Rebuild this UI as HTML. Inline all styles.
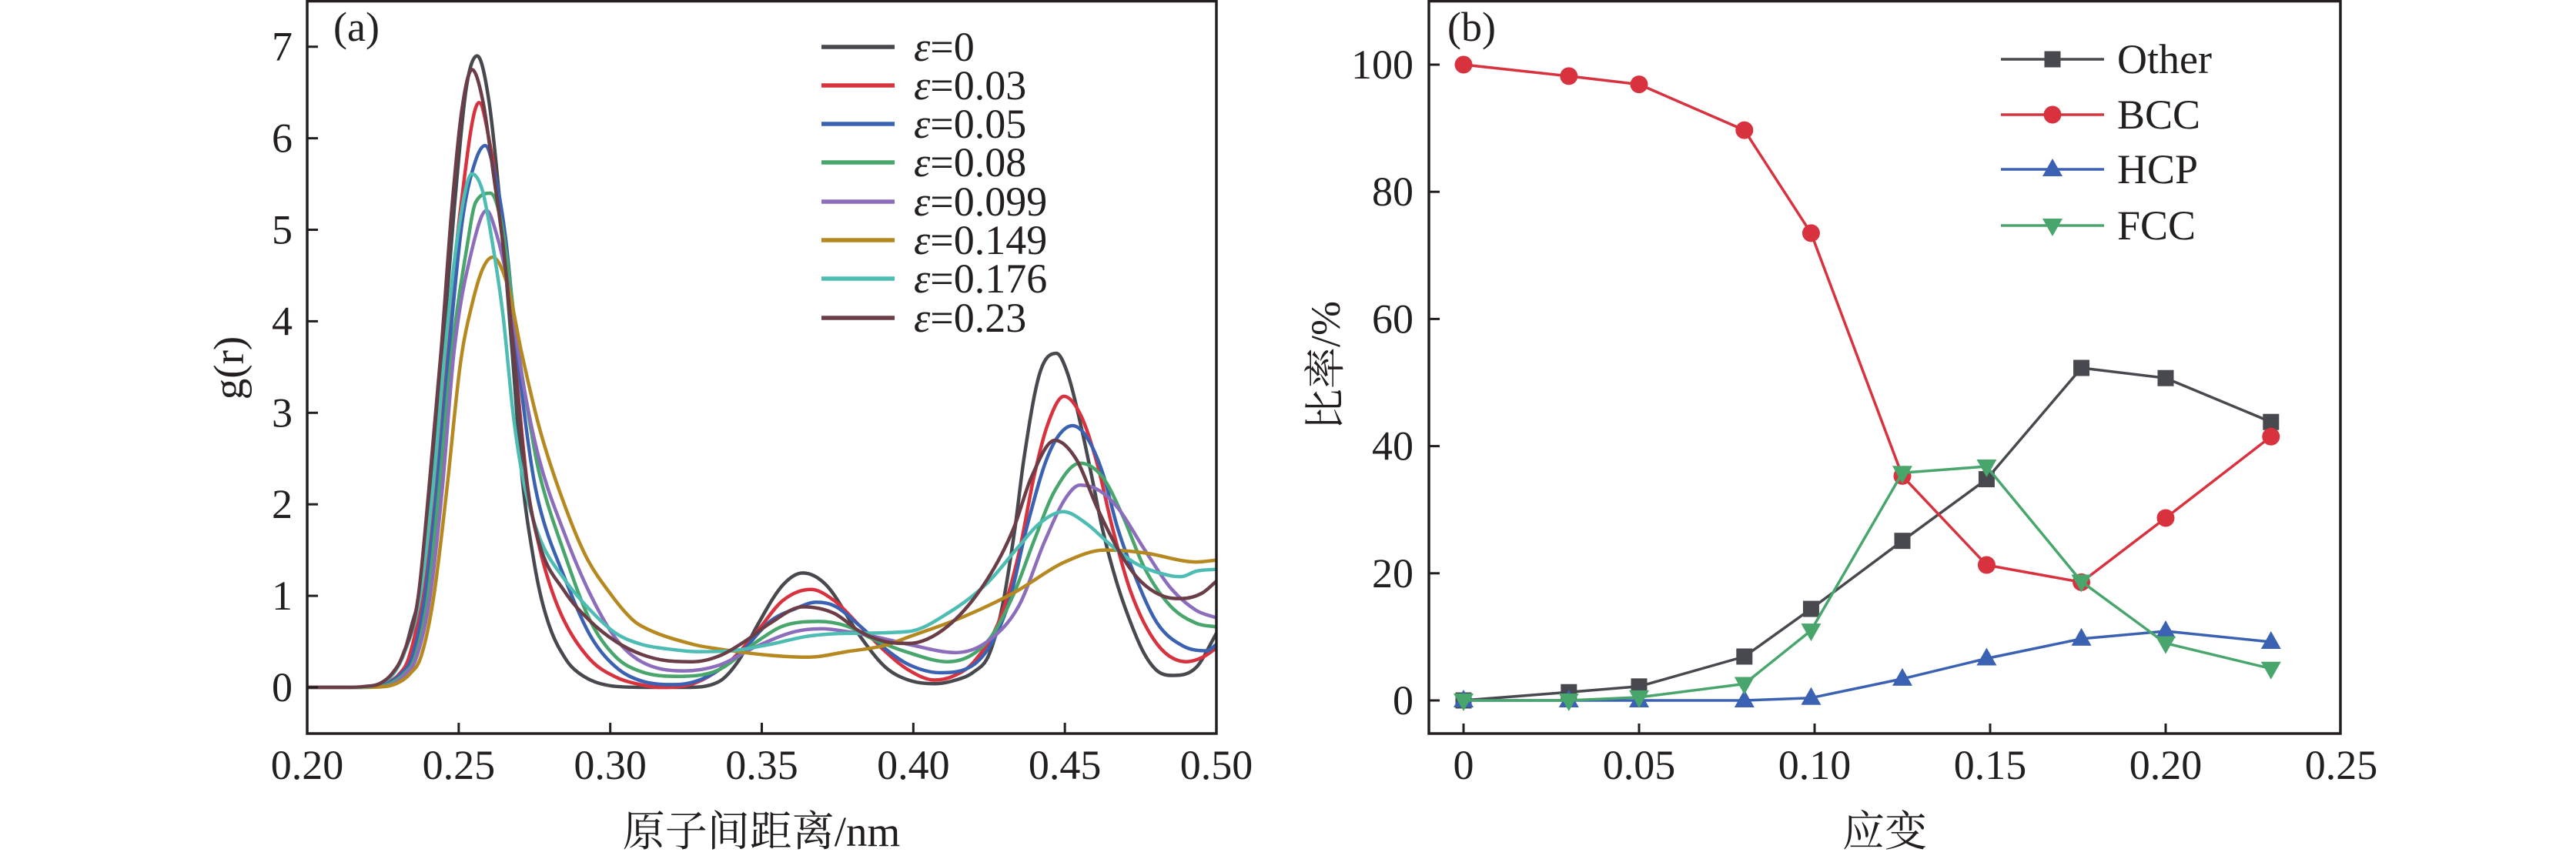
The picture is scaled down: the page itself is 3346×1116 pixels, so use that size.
<!DOCTYPE html>
<html>
<head>
<meta charset="utf-8">
<style>
  html,body{margin:0;padding:0;background:#ffffff;}
  svg{display:block;}
  svg text{font-family:"Liberation Serif","Times New Roman","Noto Serif CJK SC","DejaVu Serif",serif;fill:#231f20;}
</style>
</head>
<body>
<svg id="svg" width="3346" height="1116" viewBox="0 0 3346 1116" xmlns="http://www.w3.org/2000/svg" font-family="Liberation Serif, Noto Serif CJK SC, serif">
  <rect x="0" y="0" width="3346" height="1116" fill="#ffffff"/>
  <defs>
    <clipPath id="clipA"><rect x="399" y="2" width="1181" height="950"/></clipPath>
  </defs>

  <!-- ============ Panel A ============ -->
  <g id="curvesA" clip-path="url(#clipA)" fill="none" stroke-width="4.5" stroke-linejoin="round" stroke-linecap="round"></g>
  <rect x="399" y="1.5" width="1181" height="951.5" fill="none" stroke="#231f20" stroke-width="3.5"/>
  <g id="ticksA" stroke="#231f20" stroke-width="3"></g>
  <g id="labelsA" font-size="54" font-family="Liberation Serif, serif"></g>
  <text x="433" y="53" font-size="54" font-family="Liberation Serif, serif">(a)</text>
  <text x="297" y="478" font-size="55" font-family="Liberation Serif, serif" text-anchor="middle" dominant-baseline="central" transform="rotate(-90 297 478)">g(r)</text>
  <text x="989" y="1099" font-size="55" font-family="Liberation Serif, Noto Serif CJK SC, serif" text-anchor="middle">原子间距离/nm</text>
  <g id="legendA" font-family="Liberation Serif, serif"></g>

  <!-- ============ Panel B ============ -->
  <g id="seriesB"></g>
  <rect x="1856" y="1.5" width="1184" height="951.5" fill="none" stroke="#231f20" stroke-width="3.5"/>
  <g id="ticksB" stroke="#231f20" stroke-width="3"></g>
  <g id="labelsB" font-size="54" font-family="Liberation Serif, serif"></g>
  <text x="1880" y="53" font-size="54" font-family="Liberation Serif, serif">(b)</text>
  <text x="1722" y="475" font-size="54" font-family="Liberation Serif, Noto Serif CJK SC, serif" text-anchor="middle" dominant-baseline="central" transform="rotate(-90 1722 475)">比率/%</text>
  <text x="2448" y="1099" font-size="55" font-family="Liberation Serif, Noto Serif CJK SC, serif" text-anchor="middle">应变</text>
  <g id="legendB" font-family="Liberation Serif, serif"></g>
</svg>

<script>
(function(){
  var NS="http://www.w3.org/2000/svg";
  var FF="Liberation Serif, serif";
  function el(tag, attrs, parent, txt){
    var e=document.createElementNS(NS,tag);
    for(var k in attrs) e.setAttribute(k, attrs[k]);
    if(tag==="text") e.setAttribute("font-family",FF);
    if(txt!==undefined) e.textContent=txt;
    if(parent) parent.appendChild(e);
    return e;
  }
  function XA(r){return 399+(r-0.2)*3936.67;}
  function YA(g){return 893-g*118.9;}

  function monoPath(pts){
    var n=pts.length, xs=[], ys=[], d=[], m=[], i;
    for(i=0;i<n;i++){xs.push(pts[i][0]);ys.push(pts[i][1]);}
    for(i=0;i<n-1;i++) d.push((ys[i+1]-ys[i])/(xs[i+1]-xs[i]));
    m[0]=d[0]; m[n-1]=d[n-2];
    for(i=1;i<n-1;i++){ m[i]=(d[i-1]*d[i]<=0)?0:(d[i-1]+d[i])/2; }
    for(i=0;i<n-1;i++){
      if(d[i]===0){m[i]=0;m[i+1]=0;continue;}
      var a=m[i]/d[i], b=m[i+1]/d[i], s=a*a+b*b;
      if(s>9){var t=3/Math.sqrt(s); m[i]=t*a*d[i]; m[i+1]=t*b*d[i];}
    }
    var p="M"+XA(xs[0]).toFixed(2)+","+YA(ys[0]).toFixed(2);
    for(i=0;i<n-1;i++){
      var h=xs[i+1]-xs[i];
      var c1x=xs[i]+h/3, c1y=ys[i]+m[i]*h/3;
      var c2x=xs[i+1]-h/3, c2y=ys[i+1]-m[i+1]*h/3;
      p+=" C"+XA(c1x).toFixed(2)+","+YA(c1y).toFixed(2)+" "+XA(c2x).toFixed(2)+","+YA(c2y).toFixed(2)+" "+XA(xs[i+1]).toFixed(2)+","+YA(ys[i+1]).toFixed(2);
    }
    return p;
  }

  var curves=[
    {lab:"0", col:"#48494f", pts:[[0.2,0],[0.214,0],[0.2205,0.01],[0.2245,0.05],[0.229,0.18],[0.232,0.38],[0.2345,0.68],[0.2372,1.05],[0.2406,2.14],[0.2447,3.68],[0.2485,5.22],[0.2525,6.55],[0.2561,6.9],[0.26,6.4],[0.2638,5.22],[0.2676,3.68],[0.2709,2.3],[0.2747,1.4],[0.2772,0.98],[0.2807,0.6],[0.2849,0.33],[0.2874,0.22],[0.2935,0.08],[0.302,0.01],[0.312,0.0],[0.325,0.0],[0.3357,0.06],[0.3425,0.3],[0.3484,0.67],[0.357,1.12],[0.3635,1.25],[0.3712,1.12],[0.3824,0.56],[0.3908,0.22],[0.3984,0.08],[0.407,0.04],[0.414,0.08],[0.42,0.17],[0.425,0.36],[0.4294,0.89],[0.4335,1.73],[0.4365,2.5],[0.4416,3.42],[0.4472,3.65],[0.451,3.42],[0.4553,2.86],[0.4589,2.3],[0.4624,1.73],[0.4668,1.18],[0.4711,0.76],[0.476,0.38],[0.4805,0.18],[0.4856,0.13],[0.4934,0.22],[0.5,0.59]]},
    {lab:"0.03", col:"#d8323f", pts:[[0.2,0],[0.215,0],[0.222,0.01],[0.2265,0.05],[0.2305,0.15],[0.2335,0.32],[0.2379,0.98],[0.2422,2.14],[0.246,3.68],[0.2505,5.2],[0.2567,6.39],[0.2605,5.9],[0.2645,5.0],[0.2683,3.68],[0.2727,2.2],[0.2765,1.55],[0.2798,1.15],[0.2849,0.72],[0.2935,0.3],[0.302,0.11],[0.31,0.03],[0.3164,0.0],[0.3273,0.04],[0.34,0.3],[0.3484,0.61],[0.357,0.95],[0.3662,1.07],[0.3738,0.95],[0.3824,0.67],[0.3908,0.39],[0.3984,0.19],[0.407,0.08],[0.413,0.12],[0.42,0.28],[0.4287,0.76],[0.4348,1.46],[0.4398,2.3],[0.4442,2.86],[0.4497,3.18],[0.4553,2.97],[0.4607,2.44],[0.4658,1.73],[0.4719,1.03],[0.4805,0.47],[0.4901,0.28],[0.4955,0.33],[0.5,0.43]]},
    {lab:"0.05", col:"#3b62b2", pts:[[0.2,0],[0.216,0],[0.223,0.01],[0.227,0.05],[0.231,0.15],[0.2345,0.32],[0.2388,0.98],[0.2427,2.14],[0.2468,3.68],[0.2512,5.1],[0.2555,5.75],[0.2587,5.92],[0.262,5.6],[0.2655,4.9],[0.2692,3.68],[0.2739,2.45],[0.2765,2.0],[0.2849,1.2],[0.2935,0.56],[0.3019,0.22],[0.3103,0.07],[0.3215,0.03],[0.3316,0.11],[0.3425,0.36],[0.3527,0.72],[0.3611,0.86],[0.368,0.93],[0.374,0.89],[0.3824,0.67],[0.3908,0.42],[0.3984,0.25],[0.4088,0.16],[0.42,0.25],[0.4312,0.89],[0.4373,1.73],[0.4434,2.44],[0.4477,2.74],[0.4525,2.86],[0.4571,2.74],[0.4624,2.35],[0.4675,1.73],[0.4736,1.18],[0.4805,0.7],[0.4891,0.45],[0.497,0.4],[0.5,0.47]]},
    {lab:"0.08", col:"#48a56b", pts:[[0.2,0],[0.217,0],[0.224,0.01],[0.228,0.05],[0.232,0.15],[0.2355,0.32],[0.2398,0.98],[0.2435,2.14],[0.2478,3.68],[0.2528,4.83],[0.2556,5.3],[0.2605,5.4],[0.2645,5.0],[0.2697,3.68],[0.2747,2.65],[0.2765,2.35],[0.2849,1.46],[0.2935,0.72],[0.3019,0.33],[0.3103,0.17],[0.322,0.12],[0.3357,0.19],[0.3484,0.5],[0.357,0.67],[0.3688,0.72],[0.378,0.67],[0.3865,0.53],[0.3984,0.38],[0.4114,0.28],[0.4244,0.5],[0.433,1.01],[0.4398,1.6],[0.4467,2.15],[0.455,2.45],[0.4624,2.3],[0.469,1.88],[0.4762,1.31],[0.4848,0.89],[0.4934,0.7],[0.5,0.66]]},
    {lab:"0.099", col:"#8c6dbb", pts:[[0.2,0],[0.217,0],[0.225,0.01],[0.229,0.05],[0.2325,0.15],[0.236,0.32],[0.2405,0.98],[0.2445,2.14],[0.2485,3.68],[0.2545,4.8],[0.2592,5.21],[0.2625,4.95],[0.2663,4.4],[0.2714,3.3],[0.2765,2.5],[0.2849,1.68],[0.2935,1.01],[0.3019,0.53],[0.3103,0.28],[0.324,0.18],[0.3357,0.24],[0.3484,0.45],[0.3611,0.61],[0.3697,0.64],[0.378,0.61],[0.3865,0.56],[0.3984,0.47],[0.414,0.38],[0.4244,0.5],[0.4348,0.89],[0.4434,1.6],[0.4503,2.07],[0.455,2.21],[0.4614,2.15],[0.4675,1.96],[0.4762,1.51],[0.4848,1.09],[0.4934,0.84],[0.5,0.76]]},
    {lab:"0.149", col:"#b5891f", pts:[[0.2,0],[0.219,0],[0.2261,0.01],[0.23,0.05],[0.234,0.15],[0.2376,0.34],[0.2417,0.98],[0.246,2.14],[0.2506,3.55],[0.2545,4.2],[0.258,4.58],[0.2612,4.7],[0.2663,4.37],[0.2706,3.68],[0.2765,2.85],[0.2833,2.14],[0.2917,1.45],[0.3001,1.02],[0.307,0.75],[0.3103,0.67],[0.3273,0.47],[0.3357,0.42],[0.3527,0.35],[0.3654,0.33],[0.378,0.39],[0.3908,0.46],[0.3984,0.55],[0.4157,0.76],[0.433,1.03],[0.45,1.37],[0.4632,1.5],[0.4762,1.47],[0.4934,1.37],[0.5,1.39]]},
    {lab:"0.176", col:"#4dbcb3", pts:[[0.2,0],[0.214,0],[0.2205,0.01],[0.2245,0.05],[0.2285,0.15],[0.232,0.37],[0.2372,0.98],[0.2414,2.14],[0.2455,3.68],[0.2495,4.9],[0.2544,5.61],[0.2579,5.42],[0.2612,4.84],[0.2646,4.07],[0.2681,2.95],[0.2714,2.25],[0.2765,1.65],[0.2849,1.18],[0.2935,0.84],[0.3019,0.59],[0.3103,0.47],[0.3189,0.42],[0.329,0.39],[0.34,0.4],[0.3527,0.47],[0.3654,0.56],[0.378,0.59],[0.3984,0.61],[0.4114,0.81],[0.4244,1.14],[0.4348,1.54],[0.4416,1.79],[0.4495,1.92],[0.4571,1.79],[0.465,1.56],[0.4736,1.35],[0.4848,1.22],[0.4884,1.21],[0.4934,1.27],[0.5,1.29]]},
    {lab:"0.23", col:"#6a3d47", pts:[[0.2,0],[0.213,0],[0.219,0.01],[0.2239,0.04],[0.228,0.15],[0.2315,0.35],[0.2366,0.98],[0.2401,2.14],[0.2442,3.68],[0.2477,5.22],[0.251,6.3],[0.2544,6.75],[0.258,6.4],[0.2615,5.6],[0.2646,4.84],[0.2681,3.68],[0.2722,2.3],[0.2765,1.58],[0.2849,1.05],[0.2935,0.72],[0.3019,0.5],[0.3103,0.36],[0.319,0.29],[0.3273,0.28],[0.3357,0.34],[0.3443,0.5],[0.3527,0.7],[0.3636,0.88],[0.3738,0.81],[0.3824,0.61],[0.3908,0.5],[0.3984,0.48],[0.4114,0.67],[0.4244,1.18],[0.433,1.73],[0.439,2.3],[0.4467,2.7],[0.4538,2.49],[0.4607,1.96],[0.4675,1.51],[0.4744,1.18],[0.483,0.99],[0.4884,0.97],[0.4953,1.03],[0.5,1.16]]}
  ];

  var gA=document.getElementById("curvesA");
  curves.forEach(function(c){ el("path",{d:monoPath(c.pts),stroke:c.col},gA); });

  var tA=document.getElementById("ticksA"), lA=document.getElementById("labelsA");
  var xt=[0.2,0.25,0.3,0.35,0.4,0.45,0.5], xl=["0.20","0.25","0.30","0.35","0.40","0.45","0.50"];
  xt.forEach(function(r,i){
    var x=XA(r);
    if(i>0&&i<xt.length-1) el("line",{x1:x,y1:953,x2:x,y2:939},tA);
    el("text",{x:x,y:1012,"text-anchor":"middle","font-size":54},lA,xl[i]);
  });
  for(var g=0;g<=7;g++){
    var y=YA(g);
    el("line",{x1:399,y1:y,x2:413,y2:y},tA);
    el("text",{x:380,y:y+18,"text-anchor":"end","font-size":54},lA,String(g));
  }

  var lgA=document.getElementById("legendA");
  var rowsA=[61,111,161,211,262,312,362,413];
  curves.forEach(function(c,i){
    var y=rowsA[i];
    el("line",{x1:1067,y1:y,x2:1162,y2:y,stroke:c.col,"stroke-width":5.5},lgA);
    var t=el("text",{x:1187,y:y+18,"font-size":54},lgA);
    var s1=document.createElementNS(NS,"tspan"); s1.setAttribute("font-style","italic"); s1.textContent="\u03b5"; t.appendChild(s1);
    var s2=document.createElementNS(NS,"tspan"); s2.textContent="="+c.lab; t.appendChild(s2);
  });

  function XB(s){return 1901+s*4560;}
  function YB(v){return 910-v*8.26;}
  var sx=[0,0.03,0.05,0.08,0.099,0.125,0.149,0.176,0.2,0.23];
  var series=[
    {name:"Other", col:"#48494f", mk:"sq", v:[0,1.3,2.2,6.9,14.4,25.1,34.8,52.3,50.7,43.8]},
    {name:"BCC", col:"#d8323f", mk:"ci", v:[100,98.2,96.9,89.7,73.5,35.3,21.3,18.6,28.7,41.5]},
    {name:"HCP", col:"#3b62b2", mk:"up", v:[0,0,0,0,0.4,3.4,6.6,9.7,10.9,9.2]},
    {name:"FCC", col:"#48a56b", mk:"dn", v:[0,0,0.5,2.6,11.0,35.8,36.8,18.7,9.0,5.0]}
  ];
  function marker(type,x,y,col,parent){
    if(type==="sq") el("rect",{x:x-10.5,y:y-10.5,width:21,height:21,fill:col},parent);
    else if(type==="ci") el("circle",{cx:x,cy:y,r:11.5,fill:col},parent);
    else if(type==="up") el("polygon",{points:(x)+","+(y-14)+" "+(x-13)+","+(y+9)+" "+(x+13)+","+(y+9),fill:col},parent);
    else el("polygon",{points:(x)+","+(y+14)+" "+(x-13)+","+(y-9)+" "+(x+13)+","+(y-9),fill:col},parent);
  }
  var gB=document.getElementById("seriesB");
  series.forEach(function(s){
    var p="";
    s.v.forEach(function(v,i){ p+=(i?" L":"M")+XB(sx[i]).toFixed(1)+","+YB(v).toFixed(1); });
    el("path",{d:p,fill:"none",stroke:s.col,"stroke-width":3.5,"stroke-linejoin":"round"},gB);
    s.v.forEach(function(v,i){ marker(s.mk,XB(sx[i]),YB(v),s.col,gB); });
  });

  var tB=document.getElementById("ticksB"), lB=document.getElementById("labelsB");
  var bx=[0,0.05,0.1,0.15,0.2,0.25], bl=["0","0.05","0.10","0.15","0.20","0.25"];
  bx.forEach(function(s,i){
    var x=XB(s);
    if(i<bx.length-1) el("line",{x1:x,y1:953,x2:x,y2:940},tB);
    el("text",{x:x,y:1012,"text-anchor":"middle","font-size":54},lB,bl[i]);
  });
  for(var v=0;v<=100;v+=20){
    var yy=YB(v);
    el("line",{x1:1856,y1:yy,x2:1870,y2:yy},tB);
    el("text",{x:1836,y:yy+18,"text-anchor":"end","font-size":54},lB,String(v));
  }

  var lgB=document.getElementById("legendB");
  var rowsB=[77,149,220,293];
  series.forEach(function(s,i){
    var y=rowsB[i];
    el("line",{x1:2599,y1:y,x2:2733,y2:y,stroke:s.col,"stroke-width":3.5},lgB);
    marker(s.mk,2666,y,s.col,lgB);
    el("text",{x:2750,y:y+18,"font-size":54},lgB,s.name);
  });
})();
</script>
</body>
</html>
